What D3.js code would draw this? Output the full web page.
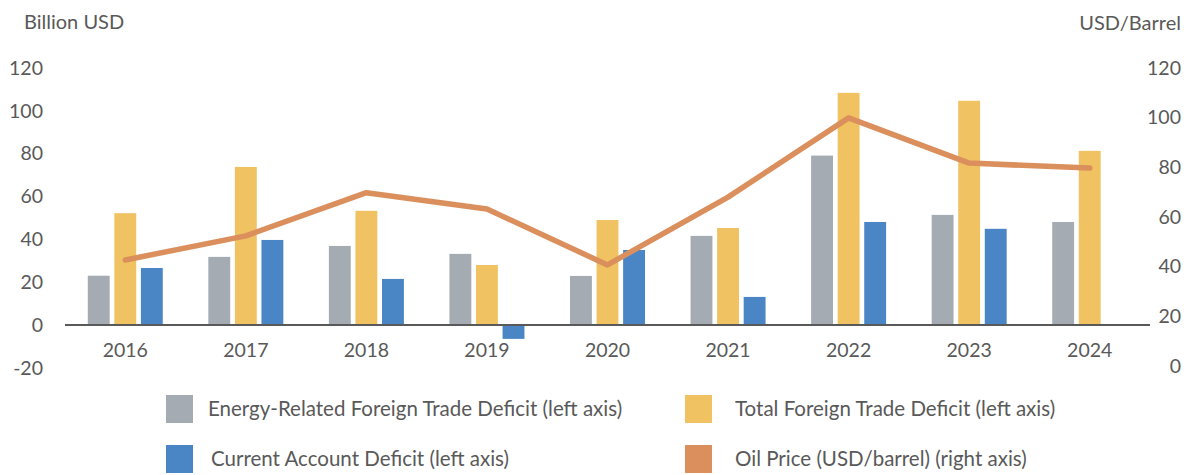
<!DOCTYPE html>
<html>
<head>
<meta charset="utf-8">
<script src="https://cdn.jsdelivr.net/npm/d3@7"></script>
<style>
  body { margin: 0; background: #fff; }
  svg text { font-family: Lato, "Open Sans", sans-serif; fill: #595959; }
</style>
</head>
<body>
<div id="chart"></div>
<script>
// data
const years = ['2016', '2017', '2018', '2019', '2020', '2021', '2022', '2023', '2024'];
const energyDeficit = [23, 31.8, 36.9, 33.2, 22.9, 41.6, 79.1, 51.4, 48.1];
const tradeDeficit = [52.2, 73.8, 53.3, 28, 49, 45.3, 108.4, 104.7, 81.3];
const currentDeficit = [26.6, 39.7, 21.5, -6.5, 35, 13.1, 48.1, 44.9, null];
const oilPrice = [42.7, 52.4, 69.8, 63.2, 40.7, 68, 99.9, 81.7, 79.7];
const leftTicks = [-20, 0, 20, 40, 60, 80, 100, 120];
const rightTicks = [0, 20, 40, 60, 80, 100, 120];
const seriesNames = [
    'Energy-Related Foreign Trade Deficit (left axis)',
    'Total Foreign Trade Deficit (left axis)',
    'Current Account Deficit (left axis)',
    'Oil Price (USD/barrel) (right axis)'
];
const colors = ['#a5abb3', '#f0c262', '#4a86c5', '#da8f5c'];

class ComboChart {
    constructor(opts) {
        this.element = opts.element;
        this.width = 1190;
        this.height = 475;
        this.draw();
    }

    draw() {
        this.svg = d3.select(this.element).append('svg')
            .attr('width', this.width)
            .attr('height', this.height);

        this.createScales();
        this.addAxes();
        this.addBars();
        this.addLine();
        this.addLegend();
    }

    createScales() {
        this.x = d3.scaleBand()
            .domain(years)
            .range([65, 1150]);

        // three bars per year
        this.xInner = d3.scaleBand()
            .domain([0, 1, 2])
            .range([-37.5, 37.5])
            .paddingInner(0.176);

        this.yLeft = d3.scaleLinear()
            .domain([-20, 120])
            .range([367.8, 68]);

        this.yRight = d3.scaleLinear()
            .domain([0, 120])
            .range([366, 68]);
    }

    addAxes() {
        const fs = '19.5px';
        // plain hyphen for negatives, like the original
        const fmt = d => String(d);

        const left = this.svg.append('g')
            .attr('transform', 'translate(43,0)')
            .call(d3.axisLeft(this.yLeft).tickValues(leftTicks).tickFormat(fmt).tickSize(0).tickPadding(0));
        left.select('.domain').remove();
        left.selectAll('text').style('font-size', fs).attr('fill', '#595959');

        const right = this.svg.append('g')
            .attr('transform', 'translate(1181,0)')
            .call(d3.axisLeft(this.yRight).tickValues(rightTicks).tickFormat(fmt).tickSize(0).tickPadding(0));
        right.select('.domain').remove();
        right.selectAll('text').style('font-size', fs).attr('fill', '#595959');

        const bottom = this.svg.append('g')
            .attr('transform', 'translate(0,343)')
            .call(d3.axisBottom(this.x).tickSize(0).tickPadding(0));
        bottom.select('.domain').remove();
        bottom.selectAll('text').style('font-size', fs).attr('fill', '#595959');

        this.svg.append('text')
            .attr('x', 24).attr('y', 29)
            .style('font-size', '20px')
            .text('Billion USD');

        this.svg.append('text')
            .attr('x', 1181).attr('y', 30)
            .attr('text-anchor', 'end')
            .style('font-size', '20px')
            .text('USD/Barrel');
    }

    addBars() {
        const series = [energyDeficit, tradeDeficit, currentDeficit];
        const y = this.yLeft;

        series.forEach((vals, i) => {
            this.svg.append('g')
                .selectAll('rect')
                .data(vals.map((v, j) => ({ year: years[j], v: v })).filter(d => d.v !== null))
                .enter()
                .append('rect')
                .attr('x', d => this.x(d.year) + this.x.bandwidth() / 2 + this.xInner(i))
                .attr('width', this.xInner.bandwidth())
                .attr('y', d => y(Math.max(0, d.v)))
                .attr('height', d => Math.abs(y(d.v) - y(0)))
                .attr('fill', colors[i]);
        });

        // zero line over the bars
        this.svg.append('line')
            .attr('x1', 65).attr('x2', 1150)
            .attr('y1', y(0)).attr('y2', y(0))
            .attr('stroke', '#595959')
            .attr('stroke-width', 2);
    }

    addLine() {
        const line = d3.line()
            .x((d, i) => this.x(years[i]) + this.x.bandwidth() / 2)
            .y(d => this.yRight(d));

        this.svg.append('path')
            .datum(oilPrice)
            .attr('d', line)
            .attr('fill', 'none')
            .attr('stroke', colors[3])
            .attr('stroke-width', 5.5)
            .attr('stroke-linecap', 'round')
            .attr('stroke-linejoin', 'round');
    }

    addLegend() {
        const pos = [
            { x: 166, y: 395, tx: 208 },
            { x: 685, y: 395, tx: 735 },
            { x: 166, y: 445, tx: 211 },
            { x: 685, y: 445, tx: 735 }
        ];
        const g = this.svg.append('g');
        seriesNames.forEach((name, i) => {
            const p = pos[i];
            g.append('rect')
                .attr('x', p.x).attr('y', p.y)
                .attr('width', 27).attr('height', 28)
                .attr('fill', colors[i]);
            g.append('text')
                .attr('x', p.tx).attr('y', p.y + 14)
                .attr('dy', '0.35em')
                .style('font-size', '20.5px')
                .text(name);
        });
    }
}

new ComboChart({ element: document.getElementById('chart') });
</script>
</body>
</html>
